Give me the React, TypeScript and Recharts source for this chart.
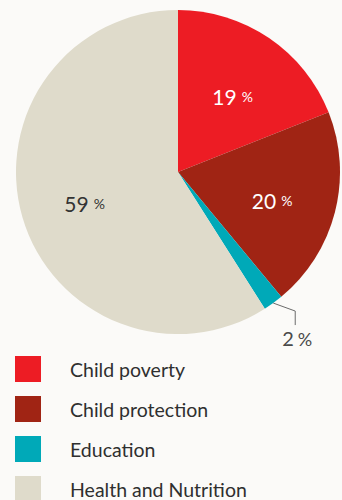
import React from 'react';
import { PieChart, Pie, Cell, Legend } from 'recharts';

// Shares by sector (%)
const categories = ['Child poverty', 'Child protection', 'Education', 'Health and Nutrition'];
const shares = [19, 20, 2, 59];
const COLORS = ['#ED1C24', '#A02414', '#00A9B8', '#DFDBCB'];

const pieData = categories.map((name, i) => ({ name, value: shares[i] }));

const RAD = Math.PI / 180;

const renderLabel = (props: any) => {
  const { cx, cy, midAngle, outerRadius, index, value } = props;
  const cos = Math.cos(-midAngle * RAD);
  const sin = Math.sin(-midAngle * RAD);
  if (value < 5) {
    // small slice: leader line out to the lower right
    const sx = cx + outerRadius * cos;
    const sy = cy + outerRadius * sin;
    const mx = sx + 22;
    const my = sy + 8;
    const ey = my + 14;
    return (
      <g>
        <polyline points={`${sx},${sy} ${mx},${my} ${mx},${ey}`} fill="none" stroke="#6b6b6b" strokeWidth={1} />
        <text x={mx + 2} y={ey + 21} textAnchor="middle" fill="#4a4a4a" fontFamily="Lato, sans-serif">
          <tspan fontSize={20}>{value}</tspan>
          <tspan fontSize={18} dx={4}>%</tspan>
        </text>
      </g>
    );
  }
  const r = outerRadius * 0.6;
  const x = cx + r * cos;
  const y = cy + r * sin + 4;
  const fill = index === 3 ? '#333333' : '#ffffff';
  return (
    <text x={x} y={y} textAnchor="middle" dominantBaseline="central" fill={fill} fontFamily="Lato, sans-serif">
      <tspan fontSize={21}>{value}</tspan>
      <tspan fontSize={14} dx={5}>%</tspan>
    </text>
  );
};

const CustomLegend = () => (
  <div style={{ fontFamily: 'Lato, sans-serif' }}>
    {categories.map((name, i) => (
      <div key={name} style={{ display: 'flex', alignItems: 'center', height: 40 }}>
        <span style={{ width: 26, height: 26, backgroundColor: COLORS[i], marginLeft: 15, marginRight: 29 }} />
        <span style={{ fontSize: 19.5, color: '#2f2f2f' }}>{name}</span>
      </div>
    ))}
  </div>
);

export default function App() {
  return (
    <div style={{ width: 342, height: 500, background: '#FBFAF8', overflow: 'hidden' }}>
      <style>{`body{margin:0}`}</style>
      <PieChart width={342} height={500} margin={{ top: 0, right: 0, bottom: 0, left: 0 }}>
        <Pie
          data={pieData}
          dataKey="value"
          cx={178}
          cy={172}
          outerRadius={162}
          startAngle={90}
          endAngle={-270}
          labelLine={false}
          label={renderLabel}
          stroke="none"
          isAnimationActive={false}
        >
          {pieData.map((_, i) => (
            <Cell key={`cell-${i}`} fill={COLORS[i]} />
          ))}
        </Pie>
        <Legend
          content={<CustomLegend />}
          wrapperStyle={{ position: 'absolute', top: 349, left: 0, width: 342 }}
        />
      </PieChart>
    </div>
  );
}
